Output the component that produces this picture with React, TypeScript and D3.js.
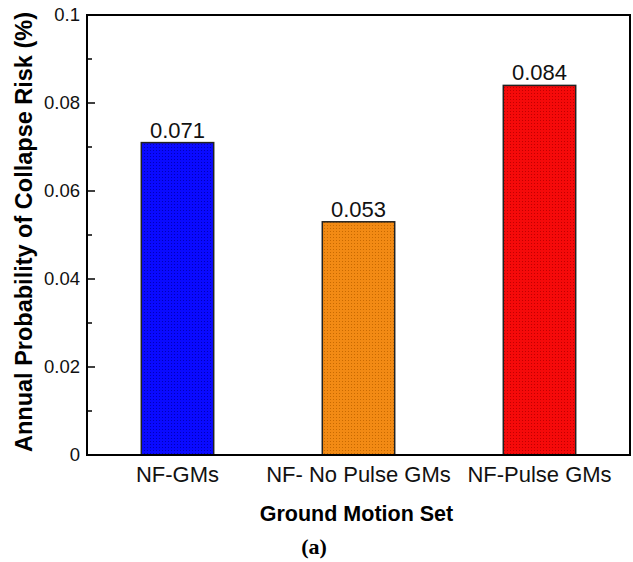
import * as d3 from "d3"

const categories = ["NF-GMs", "NF- No Pulse GMs", "NF-Pulse GMs"]
const values = [0.071, 0.053, 0.084]
const valueLabels = ["0.071", "0.053", "0.084"]
const majorTicks = [0, 0.02, 0.04, 0.06, 0.08, 0.1]
const minorTicks = [0.01, 0.03, 0.05, 0.07, 0.09]
const barColors = [
    { base: "#0a0aff", dot: "#0000b8" },
    { base: "#f28a14", dot: "#c86a00" },
    { base: "#f50a0a", dot: "#c00000" },
]

const W = 633
const H = 562
const margin = { top: 15, right: 3, bottom: 107, left: 87 }
const font = "'Liberation Sans', Arial, sans-serif"

export default function App() {
    const x = d3.scaleBand<string>()
        .domain(categories)
        .range([margin.left, W - margin.right])
        .paddingInner(0.6)
        .paddingOuter(0.3)

    const y = d3.scaleLinear()
        .domain([0, 0.1])
        .range([H - margin.bottom, margin.top])

    const x0 = margin.left
    const x1 = W - margin.right
    const y0 = y(0)
    const y1 = y(0.1)
    const cx = (x0 + x1) / 2

    return (
        <svg width={W} height={H} style={{ position: "absolute", left: 0, top: 0, background: "#fff" }}>
            <defs>
                {barColors.map((c, i) => (
                    <pattern key={i} id={`pat${i}`} width={3} height={3} patternUnits="userSpaceOnUse">
                        <rect width={3} height={3} fill={c.base} />
                        <rect width={1} height={1} fill={c.dot} />
                    </pattern>
                ))}
            </defs>

            {/* bars */}
            {categories.map((c, i) => (
                <g key={c}>
                    <rect
                        x={x(c)}
                        y={y(values[i])}
                        width={x.bandwidth()}
                        height={y0 - y(values[i])}
                        fill={`url(#pat${i})`}
                        stroke="#222"
                        strokeWidth={1.5}
                    />
                    <text
                        x={(x(c) ?? 0) + x.bandwidth() / 2}
                        y={y(values[i]) - 5}
                        textAnchor="middle"
                        fontFamily={font}
                        fontSize={22}
                        fill="#111"
                    >{valueLabels[i]}</text>
                    <text
                        x={(x(c) ?? 0) + x.bandwidth() / 2}
                        y={482}
                        textAnchor="middle"
                        fontFamily={font}
                        fontSize={22}
                        fill="#111"
                    >{c}</text>
                </g>
            ))}

            {/* frame */}
            <rect x={x0} y={y1} width={x1 - x0} height={y0 - y1} fill="none" stroke="#000" strokeWidth={2} />

            {/* y ticks */}
            {majorTicks.map(t => (
                <g key={t}>
                    <line x1={x0} x2={x0 + 8} y1={y(t)} y2={y(t)} stroke="#000" strokeWidth={1.5} />
                    <text x={80} y={y(t)} dy="0.35em" textAnchor="end" fontFamily={font} fontSize={18.5} fill="#111">
                        {d3.format("~g")(t)}
                    </text>
                </g>
            ))}
            {minorTicks.map(t => (
                <line key={t} x1={x0} x2={x0 + 5} y1={y(t)} y2={y(t)} stroke="#000" strokeWidth={1.5} />
            ))}

            {/* titles */}
            <text
                transform={`translate(24,${(y0 + y1) / 2 - 3}) rotate(-90)`}
                textAnchor="middle"
                dy="0.35em"
                fontFamily={font}
                fontSize={23.5}
                fontWeight="bold"
                fill="#000"
            >Annual Probability of Collapse Risk (%)</text>
            <text x={cx - 2} y={521} textAnchor="middle" fontFamily={font} fontSize={21.5} fontWeight="bold" fill="#000">
                Ground Motion Set
            </text>
            <text x={314} y={554} textAnchor="middle" fontFamily="'Liberation Serif', 'Times New Roman', serif" fontSize={22} fontWeight="bold" fill="#000">
                (a)
            </text>
        </svg>
    )
}
